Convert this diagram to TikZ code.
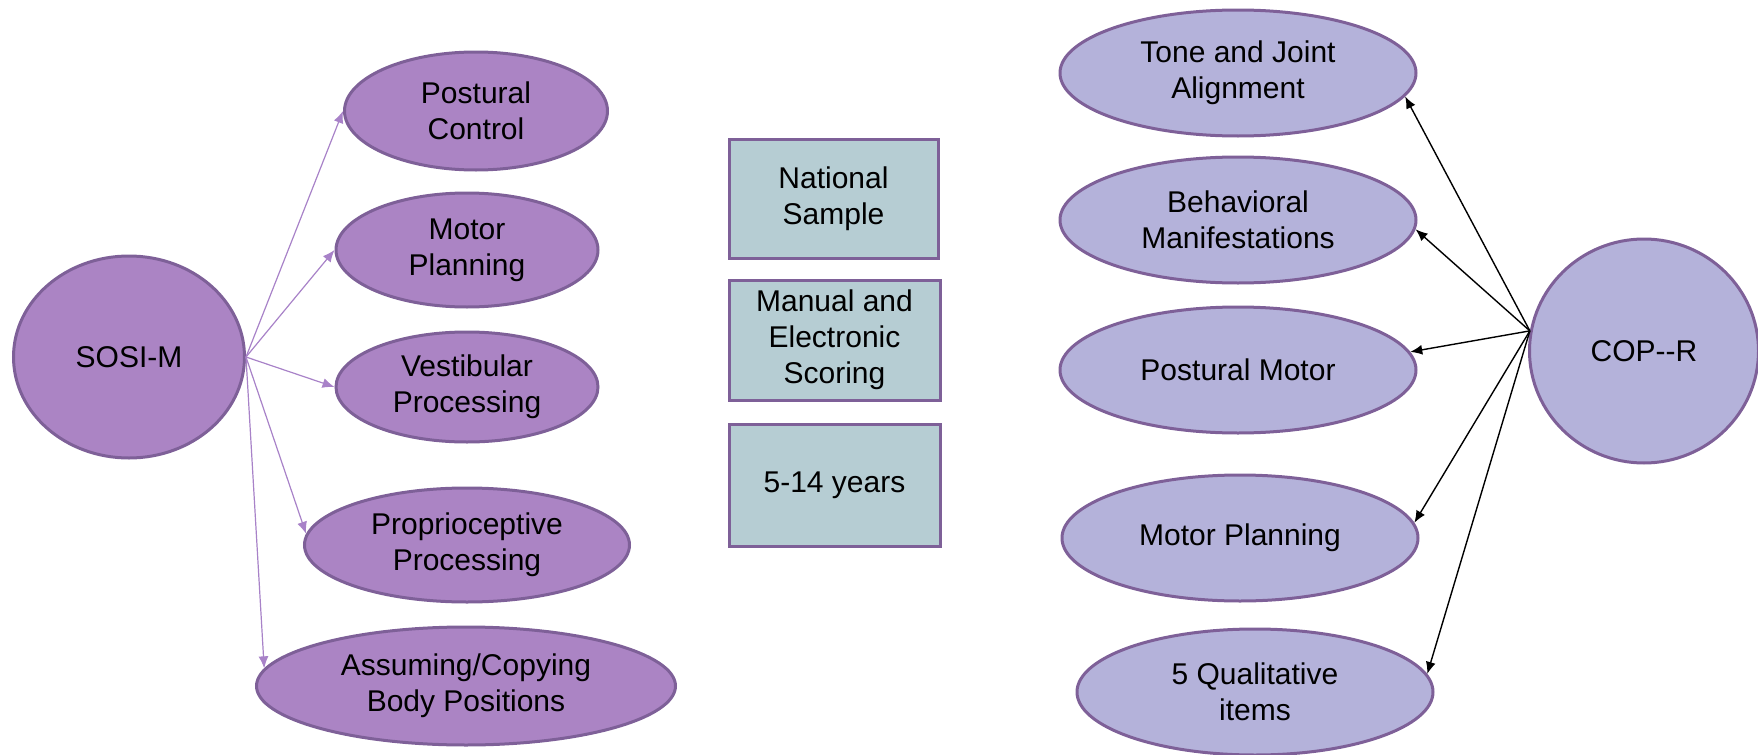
\documentclass[tikz,border=0pt]{standalone}
\usepackage{fontspec}
\setmainfont{Liberation Sans}
\usetikzlibrary{shapes.geometric,arrows.meta}
\definecolor{sosifill}{RGB}{171,132,196}
\definecolor{copfill}{RGB}{180,178,218}
\definecolor{boxfill}{RGB}{182,205,211}
\definecolor{rim}{RGB}{126,96,152}
\definecolor{sosiline}{RGB}{168,130,200}
\tikzset{
  oval/.style={ellipse,draw=rim,line width=1.5pt,inner sep=0pt,align=center,font=\fontsize{15}{18}\selectfont},
  sosi/.style={oval,fill=sosifill},
  cop/.style={oval,fill=copfill,minimum width=178pt,minimum height=63pt},
  infobox/.style={rectangle,draw=rim,line width=1.5pt,fill=boxfill,inner sep=0pt,align=center,font=\fontsize{15}{18}\selectfont}
}
\begin{document}
\begin{tikzpicture}[x=0.5pt,y=-0.5pt,>={Latex[length=6pt,width=5pt]}]
\useasboundingbox (0,0) rectangle (1758,755);
% left side
\node[sosi,minimum width=115.5pt,minimum height=101pt](sosim) at (129,357){SOSI-M};
\node[sosi,minimum width=131.5pt,minimum height=59pt](postural) at (476,111){Postural\\Control};
\node[sosi,minimum width=131pt,minimum height=57pt](motor) at (467,250){Motor\\Planning};
\node[sosi,minimum width=131pt,minimum height=55pt](vestib) at (467,387){Vestibular\\Processing};
\node[sosi,minimum width=162.5pt,minimum height=57pt](proprio) at (467,545){Proprioceptive\\Processing};
\node[sosi,minimum width=209.5pt,minimum height=59pt](assume) at (466,686){Assuming/Copying\\Body Positions};
\draw[->,sosiline,line width=.6pt](sosim.east)--(postural.west);
\draw[->,sosiline,line width=.6pt](sosim.east)--(motor.west);
\draw[->,sosiline,line width=.6pt](sosim.east)--(vestib.west);
\draw[->,sosiline,line width=.6pt](sosim.east)--(proprio.176);
\draw[->,sosiline,line width=.6pt](sosim.east)--(assume.175);
% middle
\node[infobox,minimum width=104.5pt,minimum height=59.5pt](sample) at (833.5,198.5){National\\Sample};
\node[infobox,minimum width=105.5pt,minimum height=60pt](scoring) at (834.5,340){Manual and\\Electronic\\Scoring};
\node[infobox,minimum width=105.5pt,minimum height=61pt](years) at (834.5,485){5-14 years};
% right side
\node[cop,minimum width=114.5pt,minimum height=112pt](copr) at (1644,351){COP-{}-R};
\node[cop](tone) at (1238,73){Tone and Joint\\Alignment};
\node[cop](behav) at (1238,220){Behavioral\\Manifestations};
\node[cop](posmotor) at (1238,370){Postural Motor};
\node[cop](planning) at (1240,538){Motor Planning};
\node[cop](quali) at (1255,692){5 Qualitative\\items};
\draw[->,line width=.7pt](copr.170)--(tone.-8);
\draw[->,line width=.7pt](copr.170)--(behav.-3);
\draw[->,line width=.7pt](copr.170)--(posmotor.6);
\draw[->,line width=.7pt](copr.170)--(planning.5);
\draw[->,line width=.7pt](copr.170)--(quali.6);
\end{tikzpicture}
\end{document}
